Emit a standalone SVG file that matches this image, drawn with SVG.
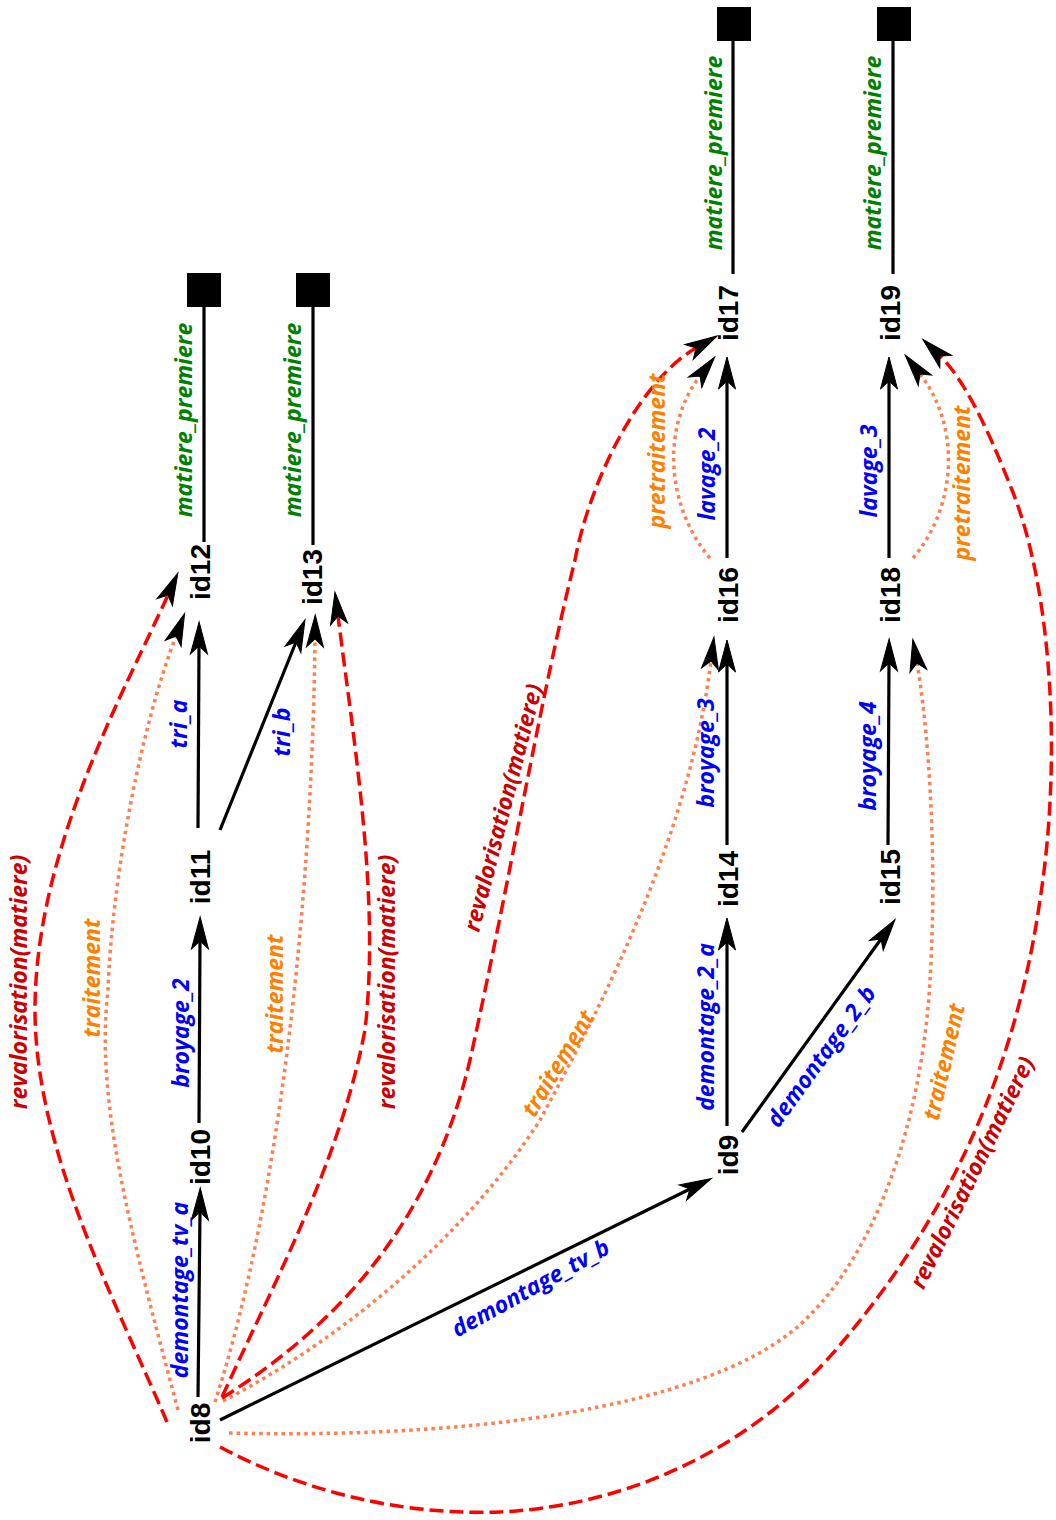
<svg xmlns="http://www.w3.org/2000/svg" width="1056" height="1520" viewBox="0 0 1056 1520">
<style>
.bg{fill:#fff}
.node{font-family:"Liberation Sans",Arial,sans-serif;font-weight:bold;font-size:28px;fill:#000;text-anchor:middle}
.lbl{font-family:"Open Sans","Noto Sans",sans-serif;font-style:italic;font-weight:bold;font-size:23px;text-anchor:middle}
.blue{fill:#0000ff}
.green{fill:#008000}
.orange{fill:#ff7f00}
.dred{fill:#cc0000}
.e{fill:none;stroke:#000;stroke-width:3.2}
.arr{marker-end:url(#ah)}
.dot{fill:none;stroke:#ff7f50;stroke-width:3.5;stroke-dasharray:3.5 4}
.dash{fill:none;stroke:#ff0000;stroke-width:3.5;stroke-dasharray:14 6}
.sq{fill:#000}
</style>
<defs>
<marker id="ah" markerUnits="userSpaceOnUse" viewBox="-10 -10 36 20" markerWidth="36" markerHeight="20" refX="0" refY="0" orient="auto" overflow="visible">
<path d="M24,0 L-8,-8.5 L0,0 L-8,8.5 Z" fill="#000" stroke="#000" stroke-width="1"/>
</marker>
</defs>
<rect class="bg" x="0" y="0" width="1056" height="1520"/>

<g id="connectors">
<path class="e arr" d="M198,1397 L200,1212"/>
<path class="e arr" d="M199,1123 L200,941"/>
<path class="e arr" d="M198,828 L199,646"/>
<path class="e arr" d="M220,830 L296,642"/>
<path class="e arr" d="M220,1420 L690,1189"/>
<path class="e arr" d="M727,1126 L727,942"/>
<path class="e arr" d="M727,845 L727,664"/>
<path class="e arr" d="M727,558 L727,381"/>
<path class="e arr" d="M742,1132 L881,939"/>
<path class="e arr" d="M888,845 L889,663"/>
<path class="e arr" d="M889,558 L889,381"/>
<path class="e" d="M204,542 L204,306"/>
<path class="e" d="M313,545 L313,306"/>
<path class="e" d="M733,274 L733,40"/>
<path class="e" d="M893,274 L893,40"/>
<path class="dot arr" d="M178,1410 C130,1230 95,1100 108,990 C112,880 140,730 176,636"/>
<path class="dot arr" d="M215,1402 C280,1200 312,900 315,639"/>
<path class="dot arr" d="M223,1401 C350,1335 470,1230 540,1120 C610,990 690,830 711,661"/>
<path class="dot arr" d="M229,1433 C520,1440 735,1395 810,1315 C870,1255 925,1130 931,960 C937,840 927,720 917,663"/>
<path class="dot arr" d="M710,558 C665,505 662,425 700,376"/>
<path class="dot arr" d="M913,558 C958,505 960,425 920,374"/>
<path class="dash arr" d="M167,1422 C115,1300 35,1150 35,1010 C35,850 125,690 168,595"/>
<path class="dash arr" d="M222,1397 C280,1270 340,1160 365,1030 C380,900 355,750 338,616"/>
<path class="dash arr" d="M222,1398 C330,1330 430,1230 470,1060 C510,880 540,700 575,560 C590,480 640,380 696,348"/>
<path class="dash arr" d="M220,1447 C320,1500 420,1515 500,1512 C640,1505 760,1440 840,1345 C920,1250 1010,1110 1040,900 C1062,760 1052,590 1012,490 C996,450 970,385 940,356"/>
</g>

<g id="edge-labels">
<text class="lbl blue" transform="translate(188,1290) rotate(-90)">demontage_tv_a</text>
<text class="lbl blue" transform="translate(189,1033) rotate(-90)">broyage_2</text>
<text class="lbl blue" transform="translate(187,724) rotate(-90)">tri_a</text>
<text class="lbl blue" transform="translate(290,732) rotate(-90)">tri_b</text>
<text class="lbl green" transform="translate(192,420) rotate(-90)">matiere_premiere</text>
<text class="lbl green" transform="translate(301,420) rotate(-90)">matiere_premiere</text>
<text class="lbl orange" transform="translate(100,978) rotate(-90)">traitement</text>
<text class="lbl orange" transform="translate(283,994) rotate(-90)">traitement</text>
<text class="lbl dred" transform="translate(27,982) rotate(-90)">revalorisation(matiere)</text>
<text class="lbl dred" transform="translate(395,982) rotate(-90)">revalorisation(matiere)</text>
<text class="lbl blue" transform="translate(714,1027) rotate(-90)">demontage_2_a</text>
<text class="lbl blue" transform="translate(714,753) rotate(-90)">broyage_3</text>
<text class="lbl blue" transform="translate(715,474) rotate(-90)">lavage_2</text>
<text class="lbl orange" transform="translate(665,451) rotate(-90)">pretraitement</text>
<text class="lbl green" transform="translate(722,153) rotate(-90)">matiere_premiere</text>
<text class="lbl blue" transform="translate(876,756) rotate(-90)">broyage_4</text>
<text class="lbl blue" transform="translate(877,471) rotate(-90)">lavage_3</text>
<text class="lbl orange" transform="translate(970,483) rotate(-90)">pretraitement</text>
<text class="lbl green" transform="translate(881,153) rotate(-90)">matiere_premiere</text>
<text class="lbl blue" transform="translate(531,1289) rotate(-29)" dy="7">demontage_tv_b</text>
<text class="lbl blue" transform="translate(822,1057) rotate(-54)" dy="7">demontage_2_b</text>
<text class="lbl orange" transform="translate(559,1064) rotate(-59)" dy="7">traitement</text>
<text class="lbl dred" transform="translate(504,808) rotate(-75.5)" dy="7">revalorisation(matiere)</text>
<text class="lbl orange" transform="translate(945,1062) rotate(-77)" dy="7">traitement</text>
<text class="lbl dred" transform="translate(973,1173) rotate(-64)" dy="7">revalorisation(matiere)</text>
</g>

<g id="id8"><text class="node" transform="translate(210,1423) rotate(-90)">id8</text></g>
<g id="id10"><text class="node" transform="translate(210,1157) rotate(-90)">id10</text></g>
<g id="id11"><text class="node" transform="translate(210,877) rotate(-90)">id11</text></g>
<g id="id12"><text class="node" transform="translate(210,572) rotate(-90)">id12</text></g>
<g id="id13"><text class="node" transform="translate(322,577) rotate(-90)">id13</text></g>
<g id="id9"><text class="node" transform="translate(738,1155) rotate(-90)">id9</text></g>
<g id="id14"><text class="node" transform="translate(738,879) rotate(-90)">id14</text></g>
<g id="id16"><text class="node" transform="translate(738,595) rotate(-90)">id16</text></g>
<g id="id17"><text class="node" transform="translate(738,313) rotate(-90)">id17</text></g>
<g id="id15"><text class="node" transform="translate(900,877) rotate(-90)">id15</text></g>
<g id="id18"><text class="node" transform="translate(900,595) rotate(-90)">id18</text></g>
<g id="id19"><text class="node" transform="translate(900,313) rotate(-90)">id19</text></g>
<g id="sink12"><rect class="sq" x="187" y="273" width="34" height="34"/></g>
<g id="sink13"><rect class="sq" x="296" y="273" width="34" height="34"/></g>
<g id="sink17"><rect class="sq" x="717" y="7" width="34" height="34"/></g>
<g id="sink19"><rect class="sq" x="877" y="7" width="34" height="34"/></g>
</svg>
